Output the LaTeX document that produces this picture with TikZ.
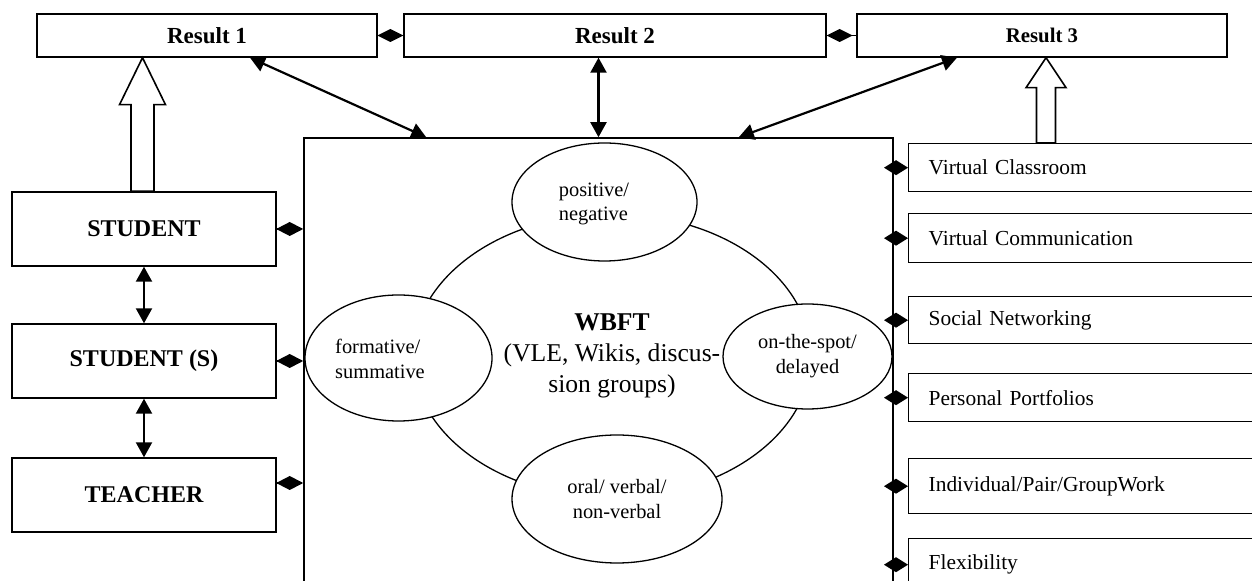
\documentclass[tikz,border=0pt]{standalone}
\usepackage{fontspec}
\setmainfont{Liberation Serif}
\usetikzlibrary{arrows.meta,shapes.geometric,calc}
\begin{document}
\begin{tikzpicture}[x=0.5pt,y=-0.5pt,
  box/.style={draw,line width=0.7pt,rectangle,inner sep=0pt},
  resbox/.style={box,minimum height=21.5pt,font=\fontsize{11.5}{13}\selectfont\bfseries},
  agent/.style={box,minimum width=132pt,minimum height=37pt,font=\fontsize{12}{14}\selectfont\bfseries},
  tool/.style={box,anchor=north west,text width=175pt,inner xsep=10pt,align=left,font=\fontsize{10.7}{12.5}\selectfont},
  ell/.style={draw,ellipse,line width=0.65pt,fill=white,inner sep=0pt},
  elltext/.style={font=\fontsize{10.2}{12.4}\selectfont,inner sep=0pt},
  dbl/.style={line width=1.1pt,{Triangle[length=7.5pt,width=8pt]}-{Triangle[length=7.5pt,width=8pt]}},
  diaL/.style={line width=1pt,-{Diamond[length=13.5pt,width=7pt]}},
  diaR/.style={line width=1pt,-{Diamond[length=12pt,width=7.5pt]}},
  diaT/.style={line width=0.8pt,-{Diamond[length=13pt,width=6.5pt]}},
  hollow/.style={draw,line width=0.8pt,fill=white,line join=miter}
]
\useasboundingbox (0,0) rectangle (1252,581);
\clip (0,0) rectangle (1252,581);

% results
\node[resbox,minimum width=170pt] (r1) at (207,35.5) {Result 1};
\node[resbox,minimum width=211pt] (r2) at (615,35.5) {Result 2};
\node[resbox,minimum width=185pt,font=\fontsize{10.4}{12}\selectfont\bfseries] (r3) at (1042,35.5) {Result 3};
\draw[diaT] (r1.east) -- (r2.west);
\draw[diaT] (r3.west) -- (r2.east);

% left agents
\node[agent] (stu) at (144,229) {STUDENT};
\node[agent] (stus) at (144,361) {STUDENT (S)};
\node[agent] (teach) at (144,495) {TEACHER};
\draw[dbl] (stu.south) -- (stus.north);
\draw[dbl] (stus.south) -- (teach.north);

% central frame (open at the bottom of the picture)
\node[draw,line width=0.8pt,minimum width=294.5pt,minimum height=231pt,inner sep=0pt] (frame) at (598.5,369) {};

\draw[diaL] (stu.east) -- (stu.east -| frame.west);
\draw[diaL] (stus.east) -- (stus.east -| frame.west);
\draw[diaL] ([yshift=6pt]teach.east) -- ([yshift=6pt]teach.east -| frame.west);

% top connectors
\draw[dbl] ([xshift=21.5pt]r1.south) -- ([xshift=61.5pt]frame.north west);
\draw[dbl] (frame.north |- r2.south) -- (frame.north);
\draw[dbl] ([xshift=-42.5pt]r3.south) -- ([xshift=-77.5pt]frame.north east);

% WBFT ellipse and feedback types
\node[draw,ellipse,line width=0.65pt,inner sep=0pt,minimum width=199pt,minimum height=142pt,
      align=center,font=\fontsize{12.8}{15.5}\selectfont] (wbft) at (612,356)
      {\textbf{WBFT}\\(VLE, Wikis, discus-\\sion groups)};
\node[ell,minimum width=92.5pt,minimum height=59pt] (pos) at (604.5,202) {};
\node[elltext,align=left] at (594,204) {positive/\\negative};
\node[ell,minimum width=93.5pt,minimum height=63pt] (form) at (398.5,358) {};
\node[elltext,align=left] at (380,359) {formative/\\summative};
\node[ell,minimum width=84.5pt,minimum height=52.5pt,align=center,font=\fontsize{10.2}{12.4}\selectfont] (spot) at (807.5,356.5) {on-the-spot/\\delayed};
\node[ell,minimum width=105pt,minimum height=64pt,align=center,font=\fontsize{10.2}{12.4}\selectfont] (oral) at (617,499) {oral/ verbal/\\non-verbal};

% right tools
\node[tool,minimum height=24pt] (vc) at (908,143) {Virtual Classroom};
\node[tool,minimum height=24.5pt] (vcom) at (908,213) {Virtual Communication};
\node[tool,minimum height=23.5pt] (sn) at (908,296) {Social Networking};
\node[tool,minimum height=24pt] (pp) at (908,373) {Personal Portfolios};
\node[tool,minimum height=27.5pt] (ipg) at (908,458) {Individual/Pair/GroupWork};
\node[tool,minimum height=26pt] (flex) at (908,538) {Flexibility};
\foreach \t in {vc,vcom,sn,pp,ipg,flex}
  \draw[diaR] (\t.west -| frame.east) -- (\t.west);

% hollow block arrows
\coordinate (a1b) at ([xshift=-0.75pt]stu.north);
\coordinate (a1t) at (a1b |- r1.south);
\draw[hollow] (a1t) -- ([shift={(23,47)}]a1t) -- ([shift={(11.5,47)}]a1t) -- ([shift={(11.5,0)}]a1b)
  -- ([shift={(-11.5,0)}]a1b) -- ([shift={(-11.5,47)}]a1t) -- ([shift={(-23,47)}]a1t) -- cycle;
\coordinate (a3b) at ([shift={(138,0)}]vc.north west);
\coordinate (a3t) at (a3b |- r3.south);
\draw[hollow] (a3t) -- ([shift={(20,30)}]a3t) -- ([shift={(9.5,30)}]a3t) -- ([shift={(9.5,0)}]a3b)
  -- ([shift={(-9.5,0)}]a3b) -- ([shift={(-9.5,30)}]a3t) -- ([shift={(-20,30)}]a3t) -- cycle;
\end{tikzpicture}
\end{document}
